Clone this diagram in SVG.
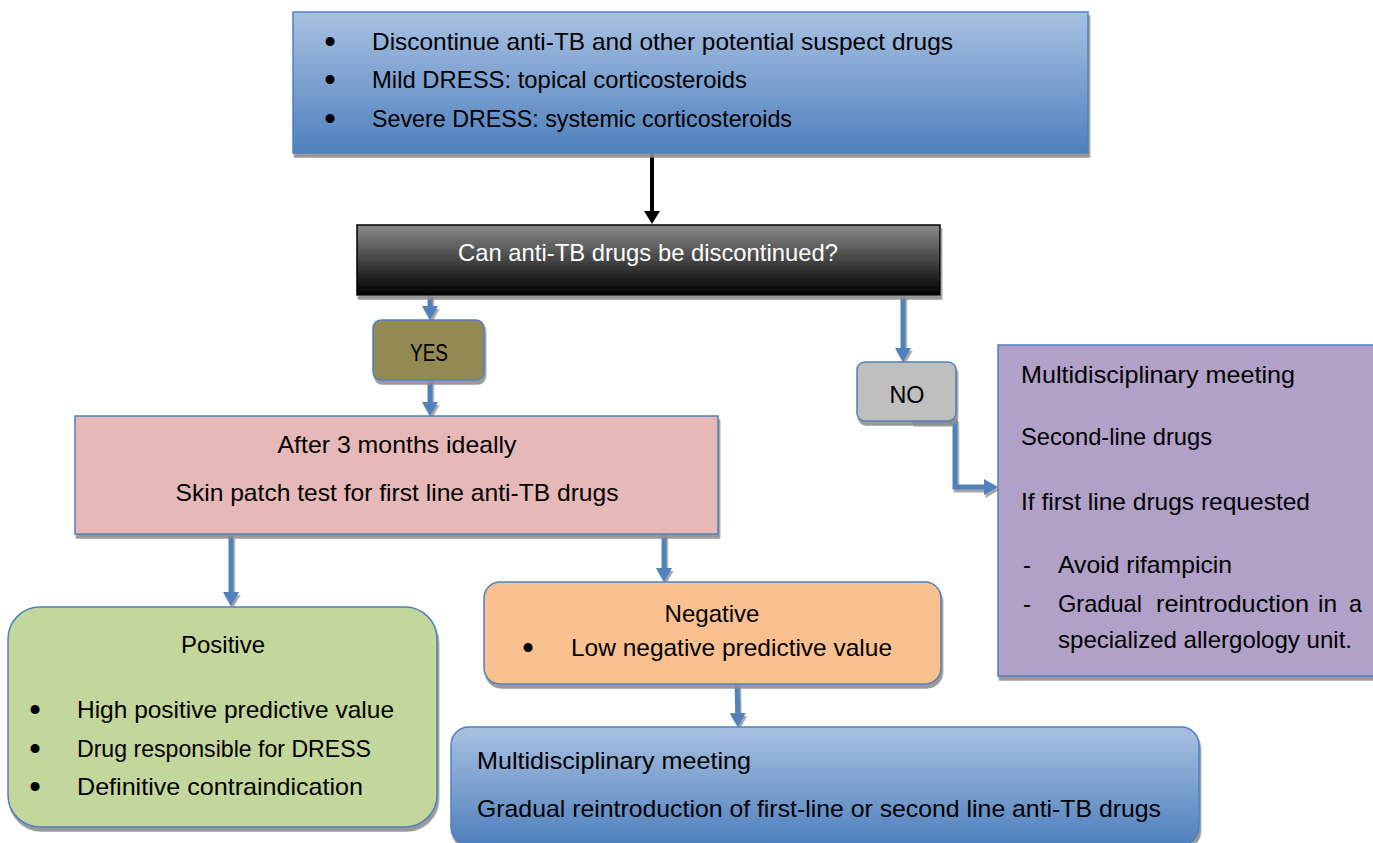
<svg xmlns="http://www.w3.org/2000/svg" width="1373" height="843" viewBox="0 0 1373 843">
  <defs>
    <linearGradient id="gBlue" x1="0" y1="0" x2="0" y2="1">
      <stop offset="0" stop-color="#a8c1e2"/>
      <stop offset="1" stop-color="#4f80bd"/>
    </linearGradient>
    <linearGradient id="gDark" x1="0" y1="0" x2="0" y2="1">
      <stop offset="0" stop-color="#8a8a8a"/>
      <stop offset="1" stop-color="#000000"/>
    </linearGradient>
    <filter id="sh" x="-5%" y="-5%" width="112%" height="125%">
      <feDropShadow dx="1.5" dy="4" stdDeviation="0.6" flood-color="#8f8f8f" flood-opacity="0.9"/>
    </filter>
    <filter id="shc" filterUnits="userSpaceOnUse" x="0" y="0" width="1373" height="843">
      <feDropShadow dx="1.5" dy="3" stdDeviation="0.6" flood-color="#8f8f8f" flood-opacity="0.8"/>
    </filter>
    <marker id="ahBlue" viewBox="0 0 14 16" refX="0" refY="8" markerWidth="14" markerHeight="16" markerUnits="userSpaceOnUse" orient="auto">
      <path d="M0,0 L14,8 L0,16 Z" fill="#4f81bd"/>
    </marker>
    <marker id="ahBlack" viewBox="0 0 13 16" refX="0" refY="8" markerWidth="13" markerHeight="16" markerUnits="userSpaceOnUse" orient="auto">
      <path d="M0,0 L13,8 L0,16 Z" fill="#000000"/>
    </marker>
  </defs>
  <style>
    text { font-family: "Liberation Sans", Arial, sans-serif; font-size: 24px; fill: #000000; }
    .c { text-anchor: middle; }
    .w { fill: #ffffff; }
    .b { text-anchor: middle; font-size: 33px; }
    .box { stroke: #4f81bd; stroke-width: 1.5; }
    .conn { fill: none; stroke: #4f81bd; stroke-width: 5; marker-end: url(#ahBlue); }
  </style>
  <rect x="0" y="0" width="1373" height="843" fill="#ffffff"/>

  <g id="connectors">
    <path d="M652,148 L652,211" fill="none" stroke="#000000" stroke-width="4" marker-end="url(#ahBlack)"/>
    <g filter="url(#shc)">
      <path class="conn" d="M430,279 L430,306"/>
      <path class="conn" d="M430,368 L430,402"/>
      <path class="conn" d="M903,295 L903,348"/>
      <path class="conn" d="M912,421 L955,421 L955,487 L984,487"/>
      <path class="conn" d="M231,536 L231,592"/>
      <path class="conn" d="M664,534 L664,568"/>
      <path class="conn" d="M737,679 L737.7,713"/>
    </g>
  </g>

  <g id="node-top">
    <rect class="box" x="293" y="12" width="795" height="141" fill="url(#gBlue)" filter="url(#sh)"/>
    <text x="330" y="53" class="b">•</text>
    <text x="372" y="50" textLength="581" lengthAdjust="spacingAndGlyphs">Discontinue anti-TB and other potential suspect drugs</text>
    <text x="330" y="91" class="b">•</text>
    <text x="372" y="88" textLength="375" lengthAdjust="spacingAndGlyphs">Mild DRESS: topical corticosteroids</text>
    <text x="330" y="130" class="b">•</text>
    <text x="372" y="127" textLength="420" lengthAdjust="spacingAndGlyphs">Severe DRESS: systemic corticosteroids</text>
  </g>

  <g id="node-question">
    <rect x="357" y="225" width="583" height="70" fill="url(#gDark)" stroke="#000000" stroke-width="1.5" filter="url(#sh)"/>
    <text x="648" y="261" class="c w" textLength="380" lengthAdjust="spacingAndGlyphs">Can anti-TB drugs be discontinued?</text>
  </g>

  <g id="node-yes">
    <rect class="box" x="373" y="320" width="111" height="60" rx="8" fill="#938953" filter="url(#sh)"/>
    <text x="429" y="361" class="c" textLength="38" lengthAdjust="spacingAndGlyphs">YES</text>
  </g>

  <g id="node-no">
    <rect class="box" x="857" y="362" width="99" height="59" rx="8" fill="#bfbfbf" filter="url(#sh)"/>
    <text x="907" y="403" class="c" textLength="35" lengthAdjust="spacingAndGlyphs">NO</text>
  </g>

  <g id="node-patch">
    <rect class="box" x="75" y="416" width="643" height="118" fill="#e6b8b7" filter="url(#sh)"/>
    <text x="397" y="453" class="c" textLength="239" lengthAdjust="spacingAndGlyphs">After 3 months ideally</text>
    <text x="397" y="501" class="c" textLength="443" lengthAdjust="spacingAndGlyphs">Skin patch test for first line anti-TB drugs</text>
  </g>

  <g id="node-no-plan">
    <rect class="box" x="998" y="345" width="390" height="331" fill="#b1a0c7" filter="url(#sh)"/>
    <text x="1021" y="383" textLength="274" lengthAdjust="spacingAndGlyphs">Multidisciplinary meeting</text>
    <text x="1021" y="445" textLength="191" lengthAdjust="spacingAndGlyphs">Second-line drugs</text>
    <text x="1021" y="510" textLength="289" lengthAdjust="spacingAndGlyphs">If first line drugs requested</text>
    <text x="1023" y="573">-</text>
    <text x="1058" y="573" textLength="174" lengthAdjust="spacingAndGlyphs">Avoid rifampicin</text>
    <text x="1023" y="612">-</text>
    <text y="612"><tspan x="1058" textLength="84" lengthAdjust="spacingAndGlyphs">Gradual</tspan><tspan x="1156" textLength="153" lengthAdjust="spacingAndGlyphs">reintroduction</tspan><tspan x="1318" textLength="19" lengthAdjust="spacingAndGlyphs">in</tspan><tspan x="1349" textLength="13" lengthAdjust="spacingAndGlyphs">a</tspan></text>
    <text x="1058" y="648" textLength="294" lengthAdjust="spacingAndGlyphs">specialized allergology unit.</text>
  </g>

  <g id="node-positive">
    <rect class="box" x="8" y="607" width="429" height="220" rx="32" fill="#c3d69b" filter="url(#sh)"/>
    <text x="223" y="653" class="c" textLength="84" lengthAdjust="spacingAndGlyphs">Positive</text>
    <text x="35" y="721" class="b">•</text>
    <text x="77" y="718" textLength="317" lengthAdjust="spacingAndGlyphs">High positive predictive value</text>
    <text x="35" y="760" class="b">•</text>
    <text x="77" y="757" textLength="294" lengthAdjust="spacingAndGlyphs">Drug responsible for DRESS</text>
    <text x="35" y="798" class="b">•</text>
    <text x="77" y="795" textLength="286" lengthAdjust="spacingAndGlyphs">Definitive contraindication</text>
  </g>

  <g id="node-negative">
    <rect class="box" x="484" y="582" width="457" height="102" rx="16" fill="#fac090" filter="url(#sh)"/>
    <text x="712" y="622" class="c" textLength="95" lengthAdjust="spacingAndGlyphs">Negative</text>
    <text x="528" y="659" class="b">•</text>
    <text x="571" y="656" textLength="321" lengthAdjust="spacingAndGlyphs">Low negative predictive value</text>
  </g>

  <g id="node-reintro">
    <rect class="box" x="451" y="727" width="748" height="118" rx="18" fill="url(#gBlue)" filter="url(#sh)"/>
    <text x="477" y="769" textLength="274" lengthAdjust="spacingAndGlyphs">Multidisciplinary meeting</text>
    <text x="477" y="817" textLength="684" lengthAdjust="spacingAndGlyphs">Gradual reintroduction of first-line or second line anti-TB drugs</text>
  </g>
</svg>
